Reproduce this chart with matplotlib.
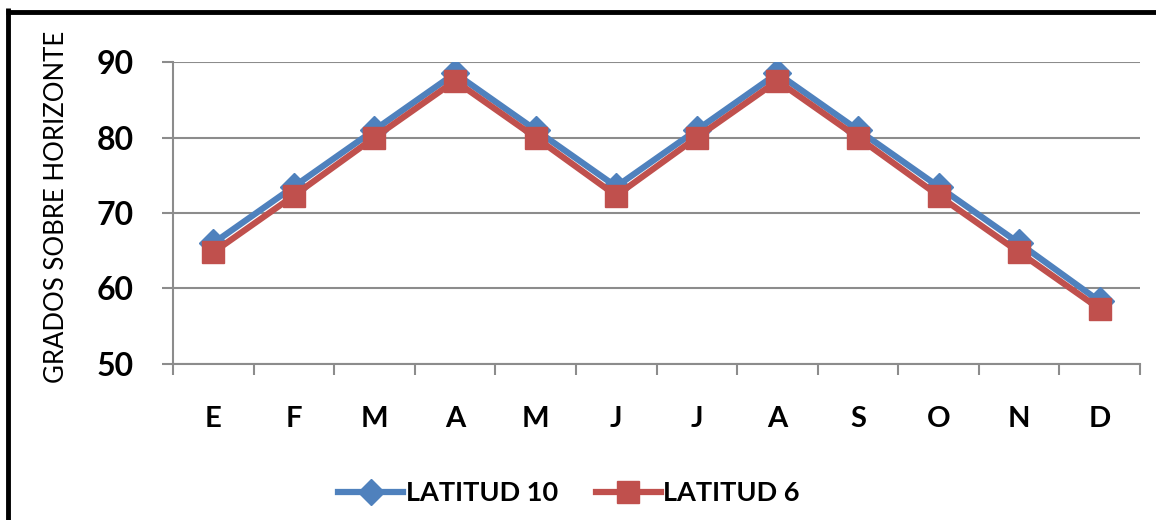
import numpy as np
import matplotlib.pyplot as plt
from matplotlib.lines import Line2D

meses = ['E', 'F', 'M', 'A', 'M', 'J', 'J', 'A', 'S', 'O', 'N', 'D']
latitud_10 = [66.0, 73.5, 81.0, 88.5, 81.0, 73.5, 81.0, 88.5, 81.0, 73.5, 66.0, 58.3]
latitud_6 = [64.8, 72.3, 80.0, 87.5, 80.0, 72.3, 80.0, 87.5, 80.0, 72.3, 64.8, 57.3]
y_ticks = [50, 60, 70, 80, 90]

plt.rcParams['font.family'] = ['Lato', 'DejaVu Sans']

W, H = 1156, 520
fig = plt.figure(figsize=(W / 100, H / 100), dpi=100)
ax = fig.add_axes([173 / W, 1 - 364 / H, (1140 - 173) / W, (364 - 62) / H])

x = np.arange(len(meses))
ax.plot(x, latitud_10, color='#4F81BD', lw=4.5, marker='D', ms=14,
        mec='#4F81BD', label='LATITUD 10', zorder=3)
ax.plot(x, latitud_6, color='#C0504D', lw=4.5, marker='s', ms=16,
        mec='#C0504D', label='LATITUD 6', zorder=4)

ax.set_xlim(-0.5, len(meses) - 0.5)
ax.set_ylim(50, 90)
ax.set_yticks(y_ticks)
ax.set_yticklabels([str(v) for v in y_ticks], fontsize=23, fontweight='bold')
ax.yaxis.grid(True, color='#8c8c8c', lw=1.5)
ax.set_axisbelow(True)

ax.set_xticks(np.arange(-0.5, len(meses)))
ax.set_xticklabels([])
ax.set_xticks(x, minor=True)
ax.set_xticklabels(meses, minor=True, fontsize=21, fontweight='bold')
ax.tick_params(axis='x', which='major', length=8, width=1.5, color='#8c8c8c')
ax.tick_params(axis='x', which='minor', length=0, pad=30)
ax.tick_params(axis='y', length=8, width=1.5, color='#8c8c8c', pad=20)

for s in ['top', 'right']:
    ax.spines[s].set_visible(False)
for s in ['left', 'bottom']:
    ax.spines[s].set_color('#8c8c8c')
    ax.spines[s].set_linewidth(1.5)

fig.text(57 / W, 1 - 207 / H, 'GRADOS SOBRE HORIZONTE', rotation=90,
         ha='center', va='center', fontsize=18.5)

fig.legend(loc='center', bbox_to_anchor=(569 / W, 1 - 493 / H), ncol=2,
           frameon=False, prop={'weight': 'bold', 'size': 19.5},
           handlelength=2.4, handletextpad=0.1, columnspacing=1.4, markerscale=0.95)

# black frame (left and top edges visible)
fig.add_artist(Line2D([8 / W, 8 / W], [0, 1 - 8 / H], transform=fig.transFigure,
                      color='black', lw=3.5, solid_capstyle='butt'))
fig.add_artist(Line2D([6 / W, 1], [1 - 12 / H, 1 - 12 / H], transform=fig.transFigure,
                      color='black', lw=3.5, solid_capstyle='butt'))

plt.savefig('out.png', dpi=100)
